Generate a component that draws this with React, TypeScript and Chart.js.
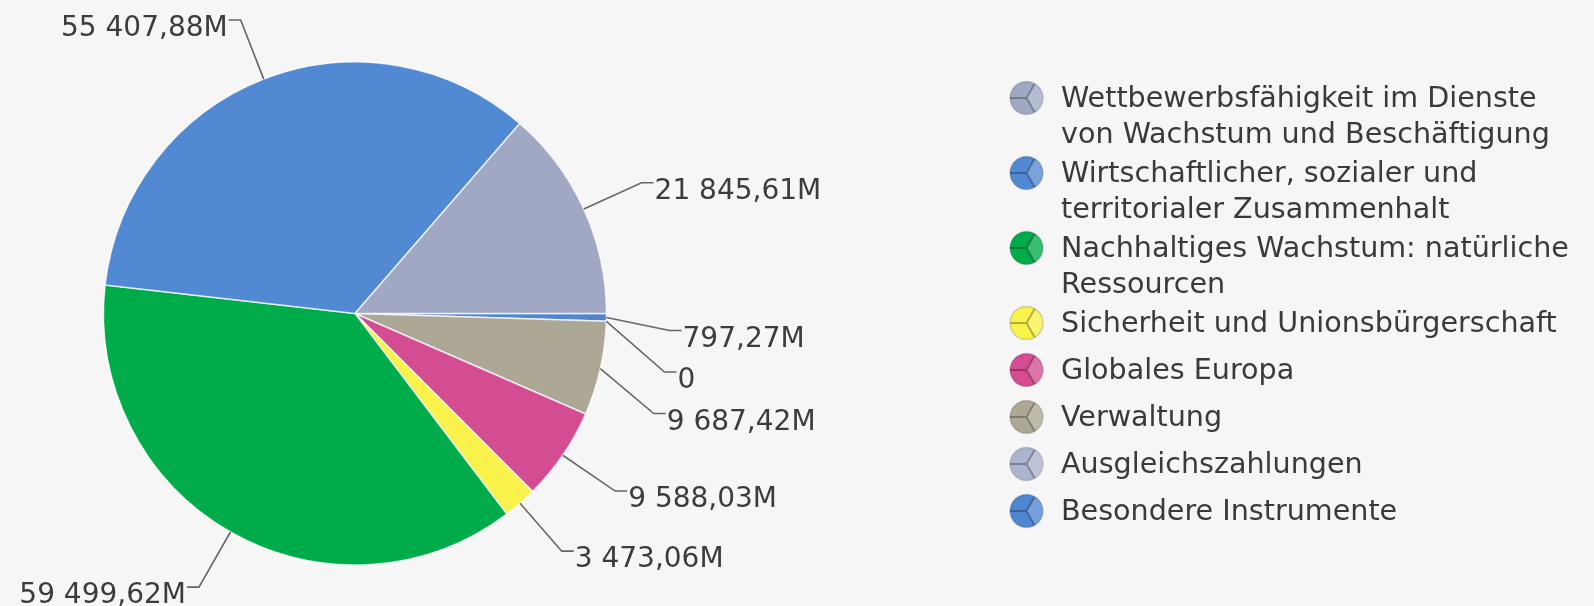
import { useEffect, useRef } from "react";
import { Chart, registerables } from "chart.js";

Chart.register(...registerables);

const categories = [
  "Wettbewerbsfähigkeit im Dienste von Wachstum und Beschäftigung",
  "Wirtschaftlicher, sozialer und territorialer Zusammenhalt",
  "Nachhaltiges Wachstum: natürliche Ressourcen",
  "Sicherheit und Unionsbürgerschaft",
  "Globales Europa",
  "Verwaltung",
  "Ausgleichszahlungen",
  "Besondere Instrumente",
];
const values = [21845.61, 55407.88, 59499.62, 3473.06, 9588.03, 9687.42, 0, 797.27];
const colors = ["#A0A8C4", "#5289D3", "#00AB4A", "#F8F24A", "#D44C91", "#ADA895", "#ACB4CE", "#4F86D1"];

const BG = "#F6F6F6";
const FONT = "'DejaVu Sans', Verdana, sans-serif";

function fmt(v: number): string {
  if (v === 0) return "0";
  const [i, d] = v.toFixed(2).split(".");
  return i.replace(/\B(?=(\d{3})+(?!\d))/g, " ") + "," + d + "M";
}

const LABEL_DIST = 63.5;
const SLOT = 41.5;
const LABEL_FONT = 28;

const labelPlugin = {
  id: "pieLabels",
  afterDatasetsDraw(chart: any) {
    const ctx = chart.ctx as CanvasRenderingContext2D;
    const meta = chart.getDatasetMeta(0);
    const ds = chart.data.datasets[0].data as number[];
    const items = meta.data.map((arc: any, i: number) => {
      const p = arc.getProps(["x", "y", "startAngle", "endAngle", "outerRadius"], true);
      const mid = (p.startAngle + p.endAngle) / 2;
      const R = p.outerRadius + LABEL_DIST;
      return {
        mid,
        cx: p.x,
        cy: p.y,
        r: p.outerRadius,
        R,
        right: Math.cos(mid) >= 0,
        ny: p.y + R * Math.sin(mid),
        y: 0,
        text: fmt(ds[i]),
      };
    });
    for (const side of [true, false]) {
      const group = items.filter((it: any) => it.right === side).sort((a: any, b: any) => a.ny - b.ny);
      // split into clusters of labels that would collide
      const clusters: any[][] = [];
      let prev = -Infinity;
      for (const it of group) {
        if (it.ny < prev + SLOT && clusters.length) clusters[clusters.length - 1].push(it);
        else clusters.push([it]);
        prev = Math.max(it.ny, prev + SLOT);
      }
      let last = -Infinity;
      for (const cl of clusters) {
        if (cl.length === 1) {
          cl[0].y = Math.max(cl[0].ny, last + SLOT);
          last = cl[0].y;
          continue;
        }
        // colliding labels snap to evenly spaced slots
        const top = cl[0].cy - cl[0].R;
        let y = top + Math.ceil((cl[0].ny - top) / SLOT) * SLOT;
        for (const it of cl) {
          y = Math.max(y, last + SLOT);
          it.y = y;
          last = y;
          y += SLOT;
        }
      }
    }
    ctx.save();
    ctx.font = `${LABEL_FONT}px ${FONT}`;
    for (const it of items) {
      const dy = it.y - it.cy;
      const dx = Math.sqrt(Math.max(it.R * it.R - dy * dy, 0));
      const ex = it.right ? it.cx + dx : it.cx - dx;
      const sx = it.cx + it.r * Math.cos(it.mid);
      const sy = it.cy + it.r * Math.sin(it.mid);
      const hx = it.right ? ex + 12 : ex - 12;
      ctx.beginPath();
      ctx.moveTo(sx, sy);
      ctx.lineTo(ex, it.y);
      ctx.lineTo(hx, it.y);
      ctx.strokeStyle = "#666666";
      ctx.lineWidth = 1.6;
      ctx.stroke();
      ctx.fillStyle = "#3C3C3C";
      ctx.textBaseline = "alphabetic";
      ctx.textAlign = it.right ? "left" : "right";
      ctx.fillText(it.text, it.right ? hx + 1 : hx - 1, it.y + 6 + LABEL_FONT * 0.729 / 2);
    }
    ctx.restore();
  },
};

function wrap(ctx: CanvasRenderingContext2D, text: string, maxW: number): string[] {
  const words = text.split(" ");
  const lines: string[] = [];
  let cur = "";
  for (const w of words) {
    const t = cur ? cur + " " + w : w;
    if (cur && ctx.measureText(t).width > maxW) {
      lines.push(cur);
      cur = w;
    } else cur = t;
  }
  if (cur) lines.push(cur);
  return lines;
}

function drawIcon(ctx: CanvasRenderingContext2D, x: number, y: number, r: number, color: string) {
  ctx.save();
  ctx.beginPath();
  ctx.arc(x, y, r, 0, Math.PI * 2);
  ctx.fillStyle = color;
  ctx.fill();
  ctx.clip();
  ctx.beginPath();
  ctx.moveTo(x, y);
  ctx.arc(x, y, r + 1, -Math.PI / 3, Math.PI / 3);
  ctx.closePath();
  ctx.fillStyle = "rgba(255,255,255,0.22)";
  ctx.fill();
  ctx.strokeStyle = "rgba(0,0,0,0.28)";
  ctx.lineWidth = 2;
  ctx.beginPath();
  ctx.moveTo(x - r, y);
  ctx.lineTo(x, y);
  ctx.lineTo(x + r * Math.cos(-Math.PI / 3), y + r * Math.sin(-Math.PI / 3));
  ctx.moveTo(x, y);
  ctx.lineTo(x + r * Math.cos(Math.PI / 3), y + r * Math.sin(Math.PI / 3));
  ctx.stroke();
  ctx.restore();
  ctx.save();
  ctx.beginPath();
  ctx.arc(x, y, r, 0, Math.PI * 2);
  ctx.strokeStyle = "rgba(0,0,0,0.15)";
  ctx.lineWidth = 1.5;
  ctx.stroke();
  ctx.restore();
}

const legendPlugin = {
  id: "customLegend",
  afterDraw(chart: any) {
    const ctx = chart.ctx as CanvasRenderingContext2D;
    ctx.save();
    ctx.font = `28.6px ${FONT}`;
    ctx.fillStyle = "#3A3A3A";
    ctx.textAlign = "left";
    ctx.textBaseline = "alphabetic";
    const iconX = 1026.5;
    const textX = 1061;
    let y = 97;
    for (let i = 0; i < categories.length; i++) {
      const lines = wrap(ctx, categories[i], 520);
      drawIcon(ctx, iconX, y + 1, 16.5, colors[i]);
      lines.forEach((ln, k) => {
        ctx.fillText(ln, textX, y + k * 35.5 + 10.4);
      });
      y += 47 + (lines.length - 1) * 28;
    }
    ctx.restore();
  },
};

export default function App() {
  const ref = useRef<HTMLCanvasElement | null>(null);
  useEffect(() => {
    document.body.style.margin = "0";
    document.body.style.background = BG;
    const canvas = ref.current!;
    const rev = <T,>(a: T[]) => a.slice().reverse();
    const chart = new Chart(canvas, {
      type: "pie",
      data: {
        labels: rev(categories),
        datasets: [
          {
            data: rev(values),
            backgroundColor: rev(colors),
            borderColor: "rgba(255,255,255,0.75)",
            borderWidth: 1.5,
          },
        ],
      },
      options: {
        responsive: false,
        animation: false,
        rotation: 90,
        layout: { padding: { left: 102.75, right: 986.75, top: 61.25, bottom: 40.25 } },
        plugins: { legend: { display: false }, tooltip: { enabled: false } },
      },
      plugins: [labelPlugin, legendPlugin],
    });
    return () => chart.destroy();
  }, []);
  return (
    <div style={{ width: 1594, height: 606, background: BG }}>
      <canvas ref={ref} width={1594} height={606} style={{ display: "block", background: BG }} />
    </div>
  );
}
